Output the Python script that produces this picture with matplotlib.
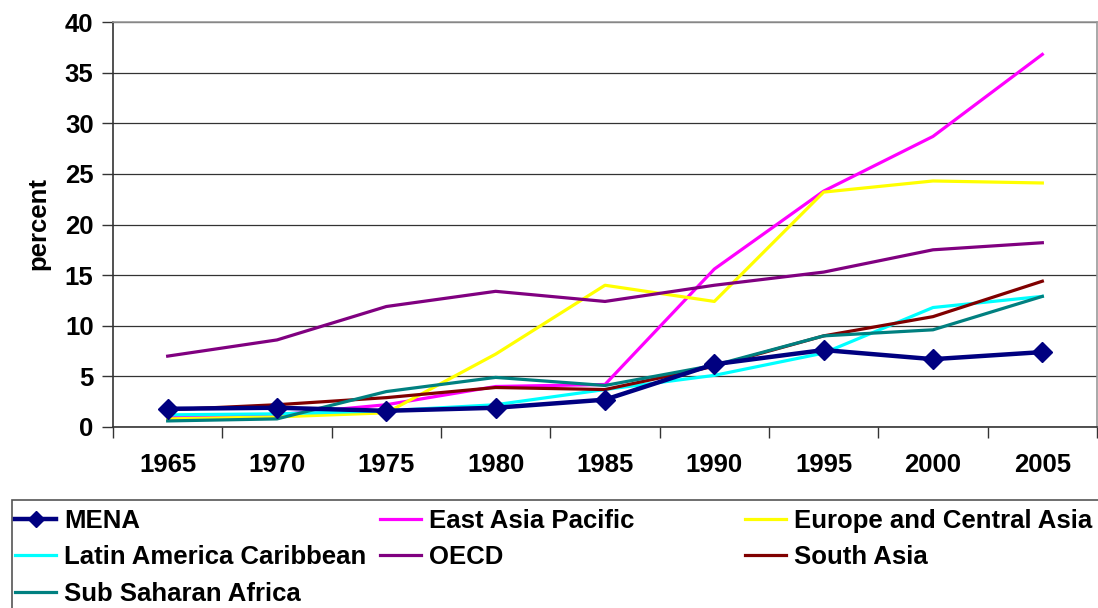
import matplotlib
matplotlib.use("Agg")
import matplotlib.pyplot as plt
from matplotlib.lines import Line2D
from matplotlib.patches import Rectangle

plt.rcParams['font.family'] = ['Liberation Sans', 'DejaVu Sans']
plt.rcParams['font.weight'] = 'bold'

years = ['1965', '1970', '1975', '1980', '1985', '1990', '1995', '2000', '2005']

mena = [1.8, 1.9, 1.6, 1.9, 2.7, 6.2, 7.6, 6.7, 7.4]
east_asia = [1.0, 1.2, 2.2, 4.0, 4.2, 15.6, 23.3, 28.7, 36.8]
europe = [0.8, 1.0, 1.4, 7.2, 14.0, 12.4, 23.2, 24.3, 24.1]
latin = [1.2, 1.3, 1.6, 2.2, 3.7, 5.1, 7.3, 11.8, 12.9]
oecd = [7.0, 8.6, 11.9, 13.4, 12.4, 14.0, 15.3, 17.5, 18.2]
south_asia = [1.7, 2.2, 2.9, 3.9, 3.7, 6.0, 9.0, 10.9, 14.4]
ssa = [0.6, 0.8, 3.5, 4.9, 4.1, 6.1, 9.0, 9.6, 12.9]

fig = plt.figure(figsize=(10.98, 6.08), dpi=100)
ax = fig.add_axes([113 / 1098, 1 - 427 / 608, 984 / 1098, 405 / 608])

lw = 2.3
ax.plot(years, east_asia, color='#FF00FF', lw=lw, label='East Asia Pacific')
ax.plot(years, europe, color='#FFFF00', lw=lw, label='Europe and Central Asia')
ax.plot(years, latin, color='#00FFFF', lw=lw, label='Latin America Caribbean')
ax.plot(years, oecd, color='#800080', lw=lw, label='OECD')
ax.plot(years, south_asia, color='#800000', lw=lw, label='South Asia')
ax.plot(years, ssa, color='#008080', lw=lw, label='Sub Saharan Africa')
ax.plot(years, mena, color='#000080', lw=3.2, marker='D', markersize=10,
        label='MENA', zorder=5)

ax.set_xlim(-0.5, len(years) - 0.5)
ax.set_ylim(0, 40)
ax.set_yticks(range(0, 41, 5))
ax.grid(axis='y', color='#333333', lw=0.9)
ax.set_axisbelow(True)

ax.set_xticks([i - 0.5 for i in range(len(years) + 1)], minor=True)
ax.tick_params(axis='x', which='major', length=0, pad=19, labelsize=18.5)
ax.tick_params(axis='x', which='minor', length=8, width=1, color='#333333')
ax.tick_params(axis='y', length=8, width=1, color='#333333', pad=6, labelsize=18.5)

for s in ['left', 'bottom']:
    ax.spines[s].set_color('#333333')
    ax.spines[s].set_linewidth(1.2)
for s in ['top', 'right']:
    ax.spines[s].set_color('#999999')
    ax.spines[s].set_linewidth(1.2)

fig.text(38 / 1098, 1 - 223 / 608, 'percent', rotation=90, ha='center',
         va='center', fontsize=18.5, fontweight='bold')

# legend box
fig.add_artist(Rectangle((12 / 1098, -0.05), 1.0, (608 - 500) / 608 + 0.05,
                         transform=fig.transFigure, fill=False,
                         edgecolor='#555555', lw=1.2))

handles = {l.get_label(): l for l in ax.get_lines()}
columns = [
    (15, ['MENA', 'Latin America Caribbean', 'Sub Saharan Africa']),
    (380, ['East Asia Pacific', 'OECD']),
    (745, ['Europe and Central Asia', 'South Asia']),
]
for x0, names in columns:
    hs = []
    for n in names:
        h = handles[n]
        hs.append(Line2D([], [], color=h.get_color(), lw=h.get_linewidth(),
                         marker=h.get_marker(), markersize=8))
    fig.legend(hs, names, loc='upper left',
               bbox_to_anchor=(x0 / 1098, 1 - 509 / 608),
               frameon=False, fontsize=18.5, handlelength=1.6,
               handletextpad=0.3, labelspacing=0.48, borderpad=0,
               borderaxespad=0)

fig.savefig('out.png', dpi=100)
